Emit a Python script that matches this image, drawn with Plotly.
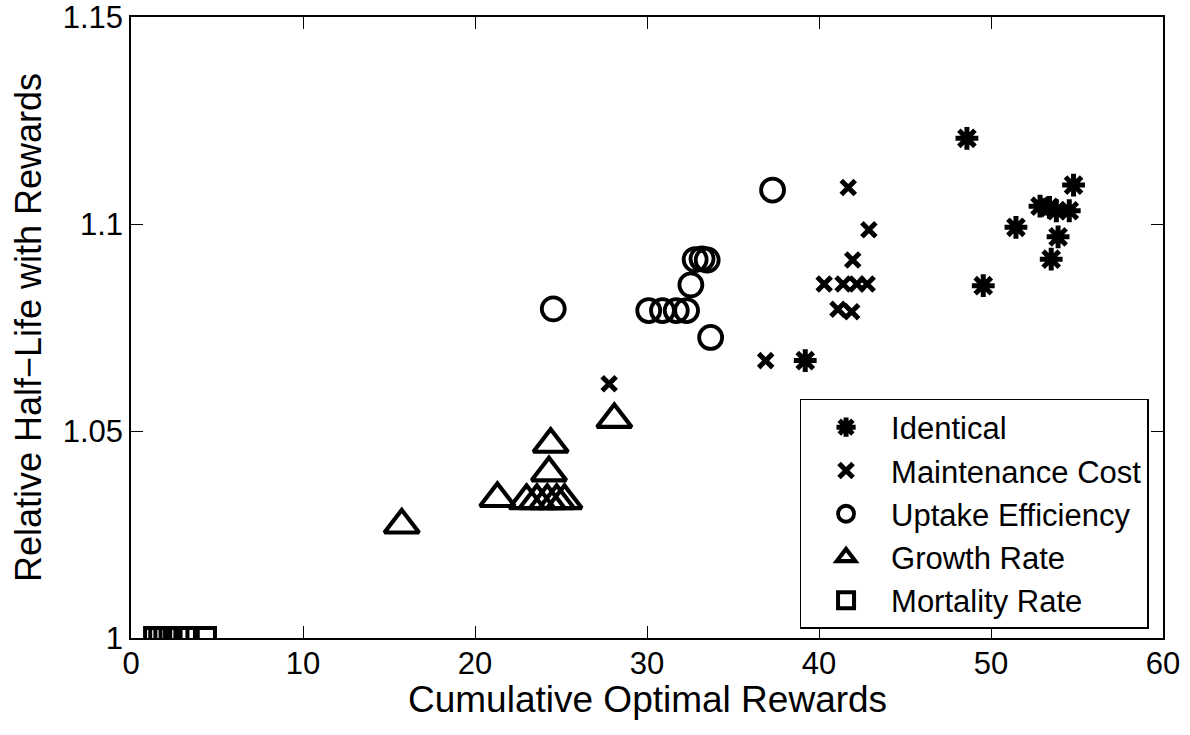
import plotly.graph_objects as go

# ---- data ----
identical_x = [48.6, 54.8, 52.85, 53.4, 53.8, 54.55, 51.45, 53.9, 53.5, 49.55, 39.2]
identical_y = [1.1207, 1.1094, 1.1043, 1.1040, 1.1032, 1.1032, 1.0992, 1.0969, 1.0915, 1.0851, 1.0670]

maint_x = [41.7, 42.9, 41.96, 40.3, 41.4, 42.2, 42.8, 41.1, 41.9, 36.9, 27.8]
maint_y = [1.1088, 1.0986, 1.0913, 1.0855, 1.0855, 1.0855, 1.0855, 1.0794, 1.0788, 1.0670, 1.0614]

uptake_x = [37.3, 32.8, 33.2, 33.5, 32.55, 30.1, 30.9, 31.7, 32.3, 24.55, 33.7]
uptake_y = [1.1082, 1.0914, 1.0916, 1.0913, 1.0853, 1.0791, 1.0791, 1.0791, 1.0791, 1.0795, 1.0726]

growth_x = [28.1, 24.4, 24.3, 21.3, 23.0, 23.6, 24.2, 24.75, 25.2, 15.74]
growth_y = [1.0528, 1.0468, 1.0399, 1.0337, 1.0332, 1.0332, 1.0332, 1.0332, 1.0332, 1.0273]

mort_x = [1.4, 1.7, 2.0, 2.3, 2.7, 3.3, 4.3]
mort_y = [1.0, 1.0, 1.0, 1.0, 1.0, 1.0, 1.0]

x_ticks = [0, 10, 20, 30, 40, 50, 60]
y_ticks = [1.0, 1.05, 1.1, 1.15]
y_tick_labels = ["1", "1.05", "1.1", "1.15"]

FONT = "Liberation Sans, Arial, Helvetica, sans-serif"

fig = go.Figure()


def add(name, xs, ys, symbol, size, lw):
    fig.add_trace(go.Scatter(
        x=xs, y=ys, mode="markers", name=name,
        marker=dict(symbol=symbol, size=size, color="black",
                    line=dict(color="black", width=lw)),
    ))


add("Identical", identical_x, identical_y, "asterisk-open", 19, 5)
add("Maintenance Cost", maint_x, maint_y, "x-thin-open", 14, 5)
add("Uptake Efficiency", uptake_x, uptake_y, "circle-open", 23, 3.8)
add("Growth Rate", growth_x, growth_y, "triangle-up-open", 30, 4.2)
add("Mortality Rate", mort_x, mort_y, "square-open", 20, 4)

axis_common = dict(
    showgrid=False, zeroline=False, showline=True, linecolor="black", linewidth=1.5,
    mirror="ticks", ticks="inside", ticklen=12, tickwidth=1.2, tickcolor="black",
    tickfont=dict(family=FONT, size=31, color="black"),
    ticklabeloverflow="allow", automargin=False,
)

fig.update_layout(
    width=1190, height=735,
    margin=dict(l=131, r=27, t=17, b=97),
    paper_bgcolor="white", plot_bgcolor="white",
    font=dict(family=FONT, color="black"),
    showlegend=True,
    legend=dict(
        x=0.986, y=0.0145, xanchor="right", yanchor="bottom",
        bgcolor="white", bordercolor="black", borderwidth=1.5,
        font=dict(family=FONT, size=31, color="black"),
        itemwidth=80, tracegroupgap=0,
    ),
    xaxis=dict(range=[0, 60], tickvals=x_ticks, ticklabelstandoff=-3, **axis_common),
    yaxis=dict(range=[1.0, 1.15], tickvals=y_ticks, ticktext=y_tick_labels,
               title=dict(text="Relative Half\u2212Life with Rewards", font=dict(family=FONT, size=36), standoff=10),
               **axis_common),
    annotations=[dict(
        text="Cumulative Optimal Rewards", xref="paper", yref="paper",
        x=0.5, y=-0.0990, xanchor="center", yanchor="middle", showarrow=False,
        font=dict(family=FONT, size=37, color="black"),
    )],
)

fig.write_html("out.html")
